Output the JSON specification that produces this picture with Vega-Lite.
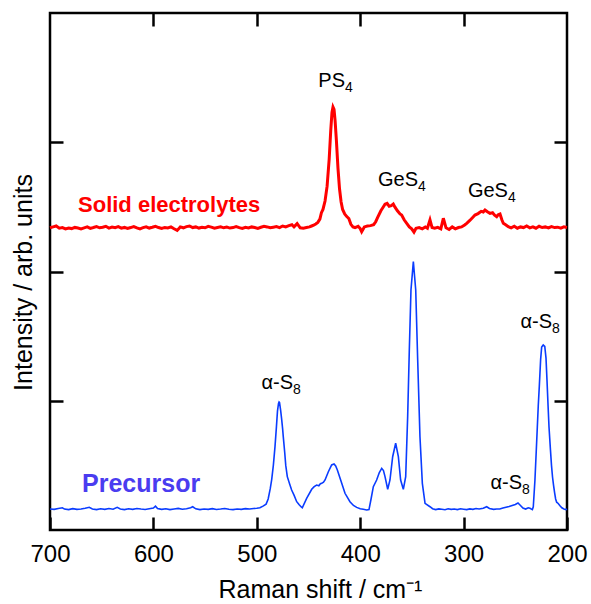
{
  "$schema": "https://vega.github.io/schema/vega-lite/v6.json",
  "width": 517,
  "height": 517,
  "autosize": {"type": "none"},
  "padding": {"left": 50, "top": 13, "right": 24, "bottom": 74},
  "background": "white",
  "config": {
    "view": {"stroke": "#000", "strokeWidth": 2.5},
    "font": "Liberation Sans",
    "axis": {
      "domain": false, "grid": false, "tickColor": "#000", "tickWidth": 2.5, "tickSize": -13,
      "labelFont": "Liberation Sans", "titleFont": "Liberation Sans", "labelColor": "#000", "titleColor": "#000",
      "labelFontSize": 24, "titleFontSize": 25, "titleFontWeight": "normal", "labelFlush": false, "labelOverlap": false
    }
  },
  "datasets": {
    "precursor": [
      {"w":700,"I":163},{"w":696,"I":160},{"w":692,"I":166},{"w":688,"I":172},{"w":686,"I":162},{"w":682,"I":158},{"w":678,"I":165},{"w":674,"I":160},{"w":670,"I":163},{"w":666,"I":168},{"w":662,"I":176},{"w":659,"I":162},{"w":655,"I":158},{"w":651,"I":164},{"w":647,"I":160},{"w":643,"I":166},{"w":639,"I":161},{"w":635,"I":175},{"w":632,"I":163},{"w":628,"I":158},{"w":624,"I":164},{"w":620,"I":160},{"w":616,"I":166},{"w":612,"I":162},{"w":608,"I":159},{"w":604,"I":165},{"w":600,"I":170},{"w":598,"I":184},{"w":596,"I":166},{"w":592,"I":160},{"w":588,"I":164},{"w":584,"I":158},{"w":580,"I":163},{"w":576,"I":167},{"w":572,"I":161},{"w":568,"I":165},{"w":564,"I":172},{"w":562,"I":180},{"w":559,"I":164},{"w":555,"I":158},{"w":551,"I":163},{"w":547,"I":160},{"w":543,"I":165},{"w":539,"I":159},{"w":535,"I":162},{"w":531,"I":166},{"w":527,"I":160},{"w":523,"I":158},{"w":519,"I":163},{"w":515,"I":160},{"w":511,"I":165},{"w":507,"I":162},{"w":503,"I":166},
      {"w":500,"I":168},{"w":497,"I":172},{"w":494,"I":185},{"w":491,"I":200},{"w":489,"I":240},{"w":487,"I":320},{"w":485.6,"I":390},{"w":484,"I":500},{"w":482.4,"I":645},{"w":481,"I":800},{"w":480,"I":920},{"w":479,"I":980},{"w":478.5,"I":990},{"w":478,"I":985},{"w":477,"I":930},{"w":476,"I":860},{"w":475,"I":780},{"w":474.4,"I":722},{"w":473,"I":600},{"w":472,"I":500},{"w":470.5,"I":413},{"w":468,"I":350},{"w":466.3,"I":309},{"w":464,"I":270},{"w":461.4,"I":219},{"w":459,"I":195},{"w":457,"I":178},{"w":456,"I":172},
      {"w":451.8,"I":245},{"w":446.9,"I":315},{"w":444.5,"I":335},{"w":442.1,"I":348},{"w":440,"I":342},{"w":438.5,"I":358},{"w":437.2,"I":361},{"w":435.5,"I":370},{"w":434,"I":387},{"w":430.8,"I":451},{"w":427.6,"I":503},{"w":425.3,"I":511},{"w":423.7,"I":495},{"w":422.1,"I":464},{"w":418.9,"I":387},{"w":414.7,"I":284},{"w":409.9,"I":219},{"w":406.5,"I":190},{"w":403.4,"I":175},{"w":400,"I":165},{"w":397,"I":160},{"w":393.7,"I":155},{"w":391.5,"I":158},{"w":389.5,"I":240},{"w":387.3,"I":335},{"w":384.1,"I":387},{"w":381.5,"I":445},{"w":379.2,"I":477},{"w":377.5,"I":460},{"w":376,"I":413},{"w":373.4,"I":315},{"w":371.2,"I":387},{"w":368.6,"I":567},{"w":365.7,"I":671},{"w":363.1,"I":567},{"w":360.9,"I":387},{"w":358.3,"I":315},{"w":356,"I":413},{"w":354.1,"I":877},{"w":352.5,"I":1393},{"w":350.9,"I":1857},{"w":348.6,"I":2076},{"w":346.3,"I":1857},{"w":344.4,"I":1315},{"w":342.2,"I":722},{"w":339.9,"I":361},{"w":337.3,"I":206},{"w":332.5,"I":180},
      {"w":330,"I":165},{"w":327,"I":158},{"w":324,"I":163},{"w":321,"I":160},{"w":318,"I":157},{"w":315,"I":164},{"w":312,"I":160},{"w":309,"I":162},{"w":306,"I":158},{"w":303,"I":164},{"w":300,"I":161},{"w":297,"I":158},{"w":294,"I":163},{"w":291,"I":160},{"w":288,"I":166},{"w":285,"I":162},{"w":281,"I":168},{"w":277.7,"I":180},{"w":275,"I":166},{"w":271,"I":160},{"w":268,"I":163},{"w":265,"I":162},{"w":262,"I":170},{"w":259,"I":176},{"w":256,"I":182},{"w":253,"I":190},{"w":250,"I":198},{"w":247.4,"I":209},{"w":245,"I":190},{"w":242.6,"I":170},{"w":240,"I":162},{"w":237.5,"I":172},{"w":235.8,"I":168},{"w":233.5,"I":158},
      {"w":232.6,"I":180},{"w":231,"I":387},{"w":229.8,"I":600},{"w":228.7,"I":797},{"w":227.8,"I":960},{"w":226.8,"I":1109},{"w":225.5,"I":1320},{"w":224.5,"I":1415},{"w":223,"I":1432},{"w":221.5,"I":1420},{"w":220.3,"I":1330},{"w":219.3,"I":1150},{"w":218.3,"I":960},{"w":217.4,"I":797},{"w":216,"I":620},{"w":215,"I":500},{"w":214,"I":410},{"w":213,"I":345},{"w":212,"I":290},{"w":211,"I":240},{"w":210,"I":215},{"w":208.5,"I":205},{"w":207,"I":190},{"w":205,"I":172},{"w":203,"I":163},{"w":201,"I":158},{"w":200,"I":162}
    ],
    "solid": [
      {"w":700,"I":2338},{"w":697,"I":2345},{"w":694,"I":2352},{"w":691,"I":2335},{"w":688,"I":2340},{"w":685,"I":2330},{"w":682,"I":2337},{"w":679,"I":2332},{"w":676,"I":2341},{"w":673,"I":2336},{"w":670,"I":2330},{"w":667,"I":2338},{"w":664,"I":2345},{"w":661,"I":2334},{"w":658,"I":2340},{"w":655,"I":2347},{"w":652,"I":2338},{"w":649,"I":2342},{"w":646,"I":2350},{"w":643,"I":2336},{"w":640,"I":2344},{"w":637,"I":2339},{"w":634,"I":2347},{"w":631,"I":2335},{"w":628,"I":2341},{"w":625,"I":2333},{"w":622,"I":2340},{"w":619,"I":2348},{"w":616,"I":2337},{"w":613,"I":2330},{"w":610,"I":2339},{"w":607,"I":2346},{"w":604,"I":2336},{"w":601,"I":2342},{"w":598,"I":2350},{"w":595,"I":2340},{"w":592,"I":2333},{"w":589,"I":2341},{"w":586,"I":2337},{"w":583,"I":2345},{"w":580,"I":2331},{"w":577,"I":2318},{"w":574,"I":2345},{"w":571,"I":2338},{"w":568,"I":2347},{"w":565,"I":2352},{"w":562,"I":2340},{"w":559,"I":2345},{"w":556,"I":2336},{"w":553,"I":2342},{"w":550,"I":2338},{"w":547,"I":2349},{"w":544,"I":2343},{"w":541,"I":2335},{"w":538,"I":2341},{"w":535,"I":2346},{"w":532,"I":2338},{"w":529,"I":2344},{"w":526,"I":2336},{"w":523,"I":2340},{"w":520,"I":2348},{"w":517,"I":2339},{"w":514,"I":2333},{"w":511,"I":2342},{"w":508,"I":2337},{"w":505,"I":2345},{"w":502,"I":2340},{"w":499,"I":2334},{"w":496,"I":2342},{"w":493,"I":2350},{"w":490,"I":2345},{"w":487,"I":2338},{"w":484,"I":2343},{"w":481,"I":2348},{"w":478,"I":2340},{"w":475,"I":2352},{"w":472,"I":2345},{"w":469,"I":2355},{"w":466,"I":2362},{"w":464,"I":2345},{"w":461,"I":2370},{"w":458,"I":2338},{"w":455,"I":2335},{"w":452,"I":2340},{"w":449,"I":2345},{"w":447,"I":2352},{"w":445,"I":2358},{"w":443,"I":2368},{"w":441,"I":2380},{"w":439,"I":2405},{"w":437.5,"I":2455},{"w":436,"I":2480},{"w":434,"I":2545},{"w":432,"I":2660},{"w":430,"I":2870},{"w":428.5,"I":3090},{"w":427.3,"I":3230},{"w":426.3,"I":3273},{"w":425.3,"I":3255},{"w":424.3,"I":3170},{"w":423,"I":3010},{"w":421.5,"I":2800},{"w":420,"I":2640},{"w":418.5,"I":2540},{"w":417,"I":2480},{"w":415,"I":2445},{"w":413,"I":2425},{"w":411,"I":2410},{"w":409,"I":2365},{"w":407,"I":2345},{"w":405,"I":2340},{"w":402,"I":2350},{"w":400,"I":2332},{"w":398.6,"I":2308},{"w":396,"I":2345},{"w":393,"I":2352},{"w":390,"I":2355},{"w":387,"I":2362},{"w":385,"I":2385},{"w":383,"I":2420},{"w":380,"I":2470},{"w":378,"I":2495},{"w":376,"I":2520},{"w":374,"I":2527},{"w":372,"I":2505},{"w":370,"I":2510},{"w":368,"I":2522},{"w":366.5,"I":2500},{"w":364,"I":2470},{"w":361.5,"I":2445},{"w":359.9,"I":2437},{"w":357.5,"I":2400},{"w":355,"I":2373},{"w":352.5,"I":2345},{"w":350.2,"I":2330},{"w":348,"I":2305},{"w":346,"I":2335},{"w":343,"I":2340},{"w":340,"I":2330},{"w":337,"I":2345},{"w":335,"I":2335},{"w":332.5,"I":2399},{"w":330.5,"I":2340},{"w":328,"I":2335},{"w":325,"I":2342},{"w":322,"I":2330},{"w":319.6,"I":2412},{"w":317,"I":2338},{"w":314,"I":2325},{"w":311,"I":2345},{"w":308,"I":2330},{"w":305,"I":2340},{"w":302,"I":2345},{"w":299,"I":2360},{"w":297,"I":2373},{"w":294,"I":2395},{"w":291,"I":2420},{"w":289,"I":2437},{"w":286,"I":2448},{"w":283,"I":2465},{"w":281,"I":2460},{"w":279.3,"I":2476},{"w":277,"I":2462},{"w":274.5,"I":2450},{"w":272,"I":2455},{"w":270,"I":2436},{"w":268,"I":2424},{"w":266.5,"I":2440},{"w":264.8,"I":2445},{"w":263,"I":2400},{"w":261.6,"I":2373},{"w":259,"I":2360},{"w":256.8,"I":2347},{"w":254,"I":2338},{"w":251,"I":2350},{"w":248,"I":2335},{"w":245,"I":2345},{"w":242,"I":2340},{"w":239,"I":2352},{"w":236,"I":2338},{"w":233,"I":2346},{"w":230,"I":2335},{"w":227,"I":2350},{"w":224,"I":2340},{"w":221,"I":2345},{"w":218,"I":2337},{"w":215,"I":2348},{"w":212,"I":2340},{"w":209,"I":2343},{"w":206,"I":2336},{"w":203,"I":2346},{"w":200,"I":2341}
    ],
    "peaks": [
      {"w":414.7,"I":3427,"main":"PS","sub":"4"},
      {"w":344.1,"I":2665,"main":"GeS","sub":"4"},
      {"w":257.1,"I":2576,"main":"GeS","sub":"4"},
      {"w":465,"I":1091,"main":"α-S","sub":"8"},
      {"w":214.5,"I":1563,"main":"α-S","sub":"8"},
      {"w":243.5,"I":317,"main":"α-S","sub":"8"}
    ],
    "names": [
      {"w":672.9,"I":2460,"name":"Solid electrolytes","series":"solid"},
      {"w":669,"I":294,"name":"Precursor","series":"precursor"}
    ]
  },
  "resolve": {"axis": {"x": "independent", "y": "independent"}},
  "layer": [
    {
      "data": {"name": "precursor"},
      "mark": {"type": "line", "color": "#0a3cff", "strokeWidth": 1.6},
      "encoding": {
        "x": {"field": "w", "type": "quantitative", "scale": {"domain": [200, 700], "reverse": true, "nice": false, "zero": false},
          "axis": {"orient": "bottom", "values": [700, 600, 500, 400, 300, 200], "labelPadding": 25, "title": "Raman shift / cm⁻¹", "titlePadding": 11, "titleX": 270}},
        "y": {"field": "I", "type": "quantitative", "scale": {"domain": [0, 4000], "nice": false, "zero": false},
          "axis": {"orient": "left", "values": [1000, 2000, 3000], "labels": false, "title": "Intensity / arb. units", "titlePadding": 12, "titleY": 269}}
      }
    },
    {
      "data": {"name": "solid"},
      "mark": {"type": "line", "color": "#ff0000", "strokeWidth": 3},
      "encoding": {
        "x": {"field": "w", "type": "quantitative", "axis": {"orient": "top", "values": [600, 500, 400, 300], "labels": false, "title": null}},
        "y": {"field": "I", "type": "quantitative", "axis": {"orient": "right", "values": [1000, 2000, 3000], "labels": false, "title": null}}
      }
    },
    {
      "data": {"name": "peaks"},
      "mark": {"type": "text", "align": "right", "baseline": "alphabetic", "fontSize": 20, "color": "#000", "font": "Liberation Sans"},
      "encoding": {
        "x": {"field": "w", "type": "quantitative", "axis": null},
        "y": {"field": "I", "type": "quantitative", "axis": null},
        "text": {"field": "main"}
      }
    },
    {
      "data": {"name": "peaks"},
      "mark": {"type": "text", "align": "left", "baseline": "alphabetic", "fontSize": 14, "dy": 5, "color": "#000", "font": "Liberation Sans"},
      "encoding": {
        "x": {"field": "w", "type": "quantitative", "axis": null},
        "y": {"field": "I", "type": "quantitative", "axis": null},
        "text": {"field": "sub"}
      }
    },
    {
      "data": {"name": "names"},
      "transform": [{"filter": "datum.series == 'solid'"}],
      "mark": {"type": "text", "align": "left", "baseline": "alphabetic", "fontSize": 22, "fontWeight": "bold", "color": "#ff0000", "font": "Liberation Sans"},
      "encoding": {
        "x": {"field": "w", "type": "quantitative", "axis": null},
        "y": {"field": "I", "type": "quantitative", "axis": null},
        "text": {"field": "name"}
      }
    },
    {
      "data": {"name": "names"},
      "transform": [{"filter": "datum.series == 'precursor'"}],
      "mark": {"type": "text", "align": "left", "baseline": "alphabetic", "fontSize": 25, "fontWeight": "bold", "color": "#4a3cf0", "font": "Liberation Sans"},
      "encoding": {
        "x": {"field": "w", "type": "quantitative", "axis": null},
        "y": {"field": "I", "type": "quantitative", "axis": null},
        "text": {"field": "name"}
      }
    }
  ]
}
